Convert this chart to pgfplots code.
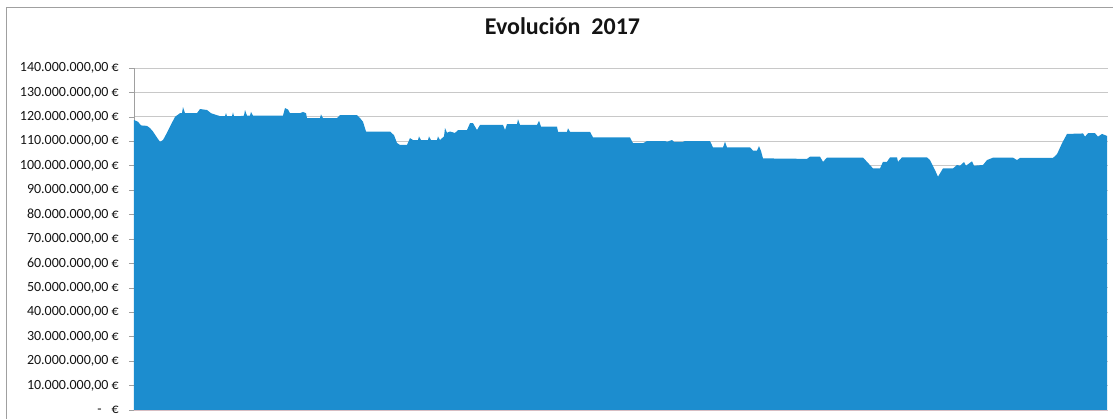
\documentclass[border=0pt]{standalone}
\usepackage{pgfplots}
\pgfplotsset{compat=1.18}
\usepackage{fontspec}
\setmainfont{Carlito}
\definecolor{areablue}{RGB}{28,141,207}
\definecolor{gridgray}{RGB}{200,200,200}
\definecolor{axgray}{RGB}{160,160,160}
\definecolor{botaxis}{RGB}{215,190,195}
\definecolor{txt}{RGB}{20,20,20}
\begin{document}
\begin{tikzpicture}
\begin{axis}[
  scale only axis, width=974pt, height=342pt,
  at={(0pt,0pt)}, anchor=south west,
  xmin=134, xmax=1108, ymin=0, ymax=140,
  axis x line*=bottom, axis y line*=left,
  axis line style={draw=axgray, line width=0.8pt},
  x axis line style={draw=botaxis},
  xtick=\empty,
  ytick={0,10,...,140},
  yticklabels={{-\hspace{10pt}€},{10.000.000,00 €},{20.000.000,00 €},{30.000.000,00 €},{40.000.000,00 €},{50.000.000,00 €},{60.000.000,00 €},{70.000.000,00 €},{80.000.000,00 €},{90.000.000,00 €},{100.000.000,00 €},{110.000.000,00 €},{120.000.000,00 €},{130.000.000,00 €},{140.000.000,00 €}},
  ymajorgrids,
  grid style={draw=gridgray, line width=0.8pt},
  tick align=outside, major tick length=5pt,
  tick style={draw=axgray, line width=0.6pt},
  yticklabel style={font=\fontsize{14}{14}\selectfont, text=txt, inner sep=0pt, xshift=-10pt},
]
\addplot[fill=areablue, draw=none] coordinates {
(134,118.7) (138,118.0) (141,116.5) (147,116.3) (150,115.4) (153,114) (157,111.5) (160,109.8)
(163,110.5) (167,113.5) (170,116) (175,120) (180,121.5) (182,121.5) (183,124) (185,121.5)
(197,121.5) (200,123.2) (207,122.8) (211,121.5) (213,121.2) (220,120.3) (225,120.3) (226,121.5)
(227,120.3) (232,120.3) (233,121.8) (234,120.3) (240,120.3) (244,120.5) (245,122.8) (247,120.5)
(250,120.5) (251,122) (253,120.5) (283,120.5) (285,123.6) (288,123) (290,121.5) (300,121.5)
(303,122) (306,121.5) (307,119.5) (320,119.5) (321,121) (323,119.5) (337,119.5) (340,120.7)
(357,120.7) (360,119.5) (363,118) (366,114) (390,114) (394,112.5) (397,109.3) (400,108.5)
(407,108.5) (410,111.3) (413,110.5) (418,110.5) (419,112) (421,110.5) (428,110.5) (429,112)
(431,110.5) (437,110.5) (438,112) (440,110.5) (444,112) (445,115.4) (447,113.5) (450,114)
(455,113.4) (458,114.6) (467,114.6) (470,117.4) (473,117.4) (477,114.6) (480,116.7) (503,116.7)
(505,114.6) (507,117) (517,117) (518,119) (520,116.7) (537,116.7) (539,118.4) (541,116)
(557,116) (558,113.9) (567,113.9) (568,115.3) (570,113.9) (590,113.9) (593,111.6) (630,111.6)
(633,109.2) (643,109.2) (647,110.1) (665,110.1) (667,109.8) (672,110.5) (674,109.8) (683,109.8)
(685,110.1) (710,110.1) (713,107.5) (723,107.5) (725,109.8) (727,107.5) (750,107.5) (753,106.2)
(757,106.2) (759,108) (761,106) (763,103) (807,102.8) (810,103.7) (820,103.7) (823,101.6)
(827,103.3) (863,103.3) (867,101.6) (873,98.9) (880,98.9) (883,101.6) (887,101.6) (890,103.4)
(897,103.4) (898,101.6) (902,103.4) (927,103.4) (930,102.3) (935,98.2) (938,95.5) (943,98.9)
(953,98.9) (957,100.3) (960,100) (964,101.5) (966,100) (972,101.8) (974,100) (983,100.3)
(987,102.3) (993,103.3) (1013,103.3) (1017,102.3) (1020,103.2) (1053,103.2) (1057,104.7) (1062,109.2)
(1067,113) (1083,113.2) (1085,111.9) (1088,113.3) (1095,113.3) (1098,111.9) (1102,113) (1107,112.2)
} \closedcycle;
\end{axis}
\pgfresetboundingbox
\useasboundingbox (-134pt,-9pt) rectangle (979pt,410pt);
\draw[axgray, line width=1pt] (-127pt,-9pt) -- (-127pt,402.5pt) -- (979pt,402.5pt);
\node[font=\bfseries\fontsize{24}{24}\selectfont, text=txt] at (428.5pt,384pt) {Evolución\ \ 2017};
\end{tikzpicture}
\end{document}
